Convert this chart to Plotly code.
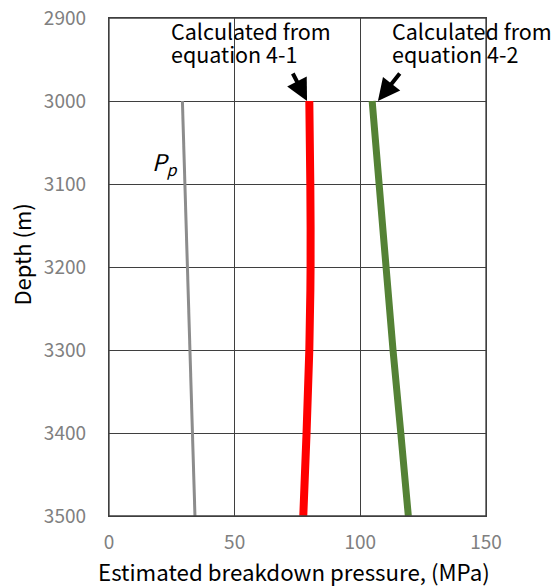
import plotly.graph_objects as go

depth = [3000, 3100, 3200, 3300, 3400, 3500]
pp = [29.2, 30.2, 31.2, 32.2, 33.2, 34.2]
eq41 = [79.7, 80.1, 80.2, 79.7, 78.6, 77.3]
eq42 = [104.7, 107.3, 110.1, 113.0, 116.1, 119.1]

x_ticks = [0, 50, 100, 150]
y_ticks = [2900, 3000, 3100, 3200, 3300, 3400, 3500]

FONT = "Noto Sans CJK JP"
GRID = "#3f3f3f"

fig = go.Figure()
fig.add_trace(go.Scatter(x=pp, y=depth, mode="lines", line=dict(color="#8c8c8c", width=3), showlegend=False))
fig.add_trace(go.Scatter(x=eq41, y=depth, mode="lines", line=dict(color="#ff0000", width=8, shape="spline"), showlegend=False))
fig.add_trace(go.Scatter(x=eq42, y=depth, mode="lines", line=dict(color="#548235", width=7), showlegend=False))

# plot area in page pixels: x 109..486, y 18..516
def px(xp):
    return (xp - 109) / 377.0

def py(yp):
    return (516 - yp) / 498.0

lab = dict(size=21.5, color="black")
fig.update_layout(
    width=551, height=586,
    margin=dict(l=109, r=65, t=18, b=70, autoexpand=False),
    paper_bgcolor="white", plot_bgcolor="white",
    font=dict(family=FONT, color="black"),
    xaxis=dict(range=[0, 150], tickvals=x_ticks, showgrid=True, gridcolor=GRID, gridwidth=1.3,
               showline=True, linecolor=GRID, linewidth=1.3, mirror=True, zeroline=False, automargin=False,
               tickfont=dict(size=19, color="#808080"), ticks="", ticklabelstandoff=9,
               ticklabeloverflow="allow"),
    yaxis=dict(range=[3500, 2900], tickvals=y_ticks, showgrid=True, gridcolor=GRID, gridwidth=1.3,
               showline=True, linecolor=GRID, linewidth=1.3, mirror=True, zeroline=False, automargin=False,
               tickfont=dict(size=19, color="#808080"), ticks="", ticklabelstandoff=18,
               ticklabeloverflow="allow"),
    shapes=[dict(type="rect", xref="paper", yref="paper", x0=0, x1=1, y0=0, y1=1,
                 line=dict(color=GRID, width=1.3), fillcolor="rgba(0,0,0,0)", layer="above")],
    annotations=[
        dict(text="Estimated breakdown pressure, (MPa)", xref="paper", yref="paper",
             x=px(294), y=py(571), xanchor="center", yanchor="middle", showarrow=False,
             font=dict(size=22.3, color="black")),
        dict(text="Depth (m)", xref="paper", yref="paper", x=px(20.6), y=py(255),
             xanchor="center", yanchor="middle", textangle=-90, showarrow=False,
             font=dict(size=22, color="black")),
        dict(text="<i>P<sub>p</sub></i>", xref="paper", yref="paper", x=px(165), y=py(163),
             xanchor="center", yanchor="middle", showarrow=False, font=dict(size=23, color="black")),
        dict(text="Calculated from", xref="paper", yref="paper", x=px(169), y=py(30.5),
             xanchor="left", yanchor="middle", showarrow=False, font=lab),
        dict(text="equation 4-1", xref="paper", yref="paper", x=px(169), y=py(53.5),
             xanchor="left", yanchor="middle", showarrow=False, font=lab),
        dict(text="Calculated from", xref="paper", yref="paper", x=px(390), y=py(30.5),
             xanchor="left", yanchor="middle", showarrow=False, font=lab),
        dict(text="equation 4-2", xref="paper", yref="paper", x=px(390), y=py(53.5),
             xanchor="left", yanchor="middle", showarrow=False, font=lab),
        dict(text="", x=78.8, y=3000, xref="x", yref="y", ax=-15, ay=-29,
             showarrow=True, arrowhead=2, arrowsize=1.1, arrowwidth=4, arrowcolor="black", standoff=0),
        dict(text="", x=107.0, y=3000, xref="x", yref="y", ax=23, ay=-29,
             showarrow=True, arrowhead=2, arrowsize=1.1, arrowwidth=4, arrowcolor="black", standoff=0),
    ],
)

fig.write_html("out.html", config={"displayModeBar": False},
               post_script="document.body.style.margin='0';")
